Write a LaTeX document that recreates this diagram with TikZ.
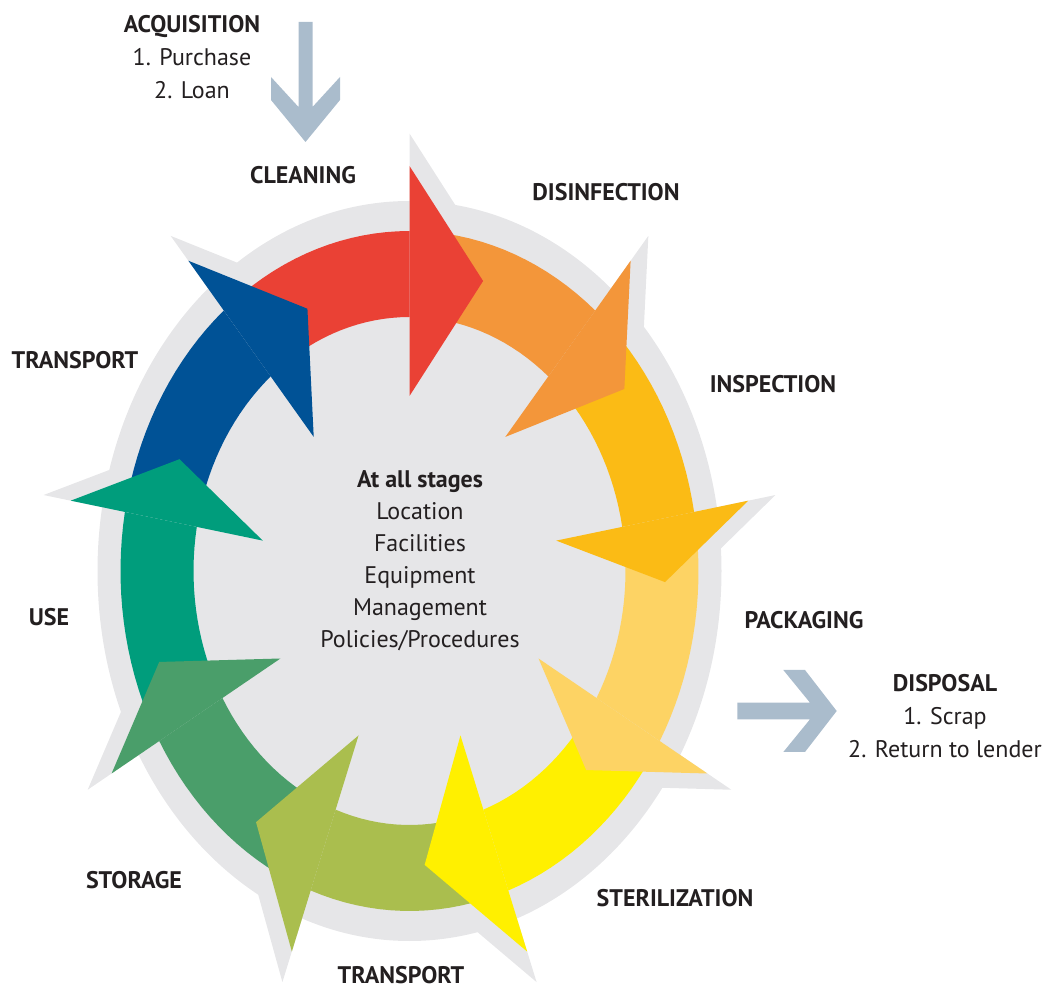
\documentclass[tikz,border=0pt]{standalone}
\usepackage{fontspec}
\setmainfont{PT Sans}
\usetikzlibrary{calc}

\definecolor{cleanred}{RGB}{234,65,53}
\definecolor{disorange}{RGB}{243,150,58}
\definecolor{inspamber}{RGB}{251,187,21}
\definecolor{packorange}{RGB}{253,211,100}
\definecolor{sterilyellow}{RGB}{255,240,0}
\definecolor{transolive}{RGB}{170,190,78}
\definecolor{storgreen}{RGB}{74,158,106}
\definecolor{useteal}{RGB}{0,157,124}
\definecolor{transblue}{RGB}{0,82,150}
\definecolor{ringgrey}{RGB}{230,230,232}
\definecolor{sidegrey}{RGB}{170,188,204}
\definecolor{inkgrey}{RGB}{35,31,32}

\begin{document}
\begin{tikzpicture}[x=0.5pt, y=-0.5pt, font=\fontsize{12}{16.5}\selectfont]
        % Define styles
        \tikzstyle{stagelabel} = [text=inkgrey, font=\fontsize{12}{16.5}\selectfont\bfseries, inner sep=0pt]
        \tikzstyle{listlabel} = [text=inkgrey, align=center, inner sep=0pt]
        \tikzstyle{sidearrow} = [fill=sidegrey]

        \useasboundingbox (0,0) rectangle (1045,988);

        % Grey disc with the halo of every arrow head
        \begin{scope}[shift={(409.5,571)}]
            \fill[ringgrey] (0,0) ellipse [x radius=156pt, y radius=185pt];
            \begin{scope}[scale=1.08]
                \foreach \ang in {-90,-50,...,230} {
                    \coordinate (ho) at ({344*cos(\ang)},{405*sin(\ang)});
                    \coordinate (hi) at ({149*cos(\ang)},{175*sin(\ang)});
                    \coordinate (hm) at ($(ho)!0.5!(hi)$);
                    \fill[ringgrey] (ho) -- ($(hm)!0.64!-90:(ho)$) -- (hi) -- cycle;
                }
            \end{scope}

            % Bands of the cycle
            \foreach \ang/\col in {-90/cleanred, -50/disorange, -10/inspamber, 30/packorange, 70/sterilyellow, 110/transolive, 150/storgreen, 190/useteal, 230/transblue} {
                \fill[\col] plot[domain=\ang-35:\ang, samples=16] ({289*cos(\x)},{340*sin(\x)})
                    -- plot[domain=\ang:\ang-35, samples=16] ({216*cos(\x)},{254*sin(\x)}) -- cycle;
            }

            % Heads of the cycle
            \foreach \ang/\col in {-90/cleanred, -50/disorange, -10/inspamber, 30/packorange, 70/sterilyellow, 110/transolive, 150/storgreen, 190/useteal, 230/transblue} {
                \coordinate (ho) at ({344*cos(\ang)},{405*sin(\ang)});
                \coordinate (hi) at ({149*cos(\ang)},{175*sin(\ang)});
                \coordinate (hm) at ($(ho)!0.5!(hi)$);
                \fill[\col] (ho) -- ($(hm)!0.64!-90:(ho)$) -- (hi) -- cycle;
            }
        \end{scope}

        % Arrows in and out of the cycle
        \coordinate (acqarrow) at (305.5,22);
        \fill[sidearrow] (acqarrow) -- ++(7,0) -- ++(0,85) -- ++(27.5,-30) -- ++(0,23)
            -- ++(-34.5,42) -- ++(-34.5,-42) -- ++(0,-23) -- ++(27.5,30) -- ++(0,-85) -- cycle;
        \coordinate (disarrow) at (737.3,711);
        \fill[sidearrow] (disarrow) -- ++(0,-8.3) -- ++(72.7,0) -- ++(-26.7,-32.7) -- ++(21.7,0)
            -- ++(31.7,41) -- ++(-31.7,41) -- ++(-21.7,0) -- ++(26.7,-32.7) -- ++(-72.7,0) -- cycle;

        % Stage labels
        \node[stagelabel] (cleaning) at (303,175) {CLEANING};
        \node[stagelabel] (disinfection) at (606,192) {DISINFECTION};
        \node[stagelabel] (inspection) at (773,384) {INSPECTION};
        \node[stagelabel] (packaging) at (804,620) {PACKAGING};
        \node[stagelabel] (sterilization) at (675,898) {STERILIZATION};
        \node[stagelabel] (transportlow) at (401,975) {TRANSPORT};
        \node[stagelabel] (storage) at (134,880) {STORAGE};
        \node[stagelabel] (use) at (49,617) {USE};
        \node[stagelabel] (transportleft) at (75,360) {TRANSPORT};

        % Lists
        \node[listlabel] (acquisition) at (192,57) {\textbf{ACQUISITION}\\1. Purchase\\2. Loan};
        \node[listlabel] (disposal) at (945,716) {\textbf{DISPOSAL}\\1. Scrap\\2. Return to lender};
        \node[listlabel, font=\fontsize{12}{16}\selectfont] (allstages) at (420,561) {\textbf{At all stages}\\Location\\Facilities\\Equipment\\Management\\Policies/Procedures};

    \end{tikzpicture}
\end{document}
